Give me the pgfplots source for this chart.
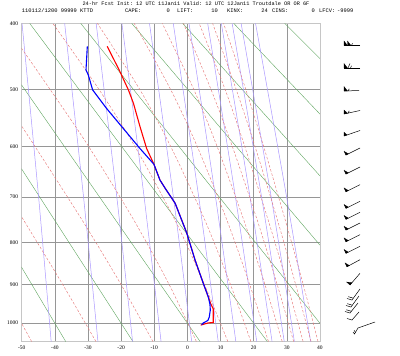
\documentclass[border=0pt]{standalone}
\usepackage{fontspec}
\setmainfont{Liberation Serif}
\setmonofont{Liberation Mono}
\usepackage{pgfplots}
\pgfplotsset{compat=1.18}
\definecolor{dryc}{RGB}{95,165,95}
\definecolor{moistc}{RGB}{230,120,120}
\definecolor{mixc}{RGB}{170,150,255}
\definecolor{gridc}{RGB}{150,150,150}
\newcommand{\hf}{\ttfamily\fontsize{5.4}{6}\selectfont}
\begin{document}
\begin{tikzpicture}[x=1pt,y=1pt]
\path (0,0) rectangle (400,356);
\begin{axis}[
  at={(21.7pt,14.5pt)}, anchor=south west,
  scale only axis, width=298.3pt, height=318.2pt,
  xmin=-50, xmax=40, ymin=400, ymax=1050,
  y coord trafo/.code={\pgfmathparse{(#1)^0.286}},
  y coord inv trafo/.code={\pgfmathparse{(#1)^3.4965}},
  y dir=reverse,
  xtick={-50,-40,-30,-20,-10,0,10,20,30,40},
  xticklabels={-50,-40,-30,-20,-10,0,10,20,30,40},
  ytick={400,500,600,700,800,900,1000},
  yticklabels={400,500,600,700,800,900,1000},
  grid=major, major grid style={gridc, line width=0.6pt},
  major tick length=0pt,
  axis line style={gray!45, line width=0.9pt},
  tick label style={font=\fontsize{5.5}{6}\selectfont},
  xticklabel style={yshift=-1pt},
]
% dry adiabats
\pgfplotsset{dry/.style={dryc, line width=0.4pt}}
\addplot[dry] coordinates {(-36.72,1050) (-93.75,400)};
\addplot[dry] coordinates {(-16.44,1050) (-78.36,400)};
\addplot[dry] coordinates {(3.84,1050) (-62.97,400)};
\addplot[dry] coordinates {(24.12,1050) (-47.58,400)};
\addplot[dry] coordinates {(44.40,1050) (-32.19,400)};
\addplot[dry] coordinates {(64.68,1050) (-16.80,400)};
\addplot[dry] coordinates {(84.96,1050) (-1.41,400)};
\addplot[dry] coordinates {(105.24,1050) (13.97,400)};
\addplot[dry] coordinates {(125.52,1050) (29.36,400)};
% mixing ratio lines
\pgfplotsset{mix/.style={mixc, line width=0.5pt, smooth}}
\addplot[mix] coordinates {(-41.11,1050) (-44.9,700) (-49.9,400)};
\addplot[mix] coordinates {(-27.0,1050) (-31.34,700) (-37.04,400)};
\addplot[mix] coordinates {(-16.55,1050) (-21.3,700) (-27.54,400)};
\addplot[mix] coordinates {(-7.95,1050) (-13.07,700) (-19.77,400)};
\addplot[mix] coordinates {(1.29,1050) (-4.23,700) (-11.45,400)};
\addplot[mix] coordinates {(9.29,1050) (3.41,700) (-4.27,400)};
\addplot[mix] coordinates {(14.61,1050) (8.48,700) (0.48,400)};
\addplot[mix] coordinates {(20.91,1050) (14.49,700) (6.11,400)};
\addplot[mix] coordinates {(25.54,1050) (18.89,700) (10.23,400)};
\addplot[mix] coordinates {(29.21,1050) (22.38,700) (13.49,400)};
\addplot[mix] coordinates {(32.27,1050) (25.28,700) (16.2,400)};
\addplot[mix] coordinates {(37.17,1050) (29.93,700) (20.55,400)};
% moist adiabats (theta-e lines)
\pgfplotsset{moist/.style={moistc, line width=0.45pt, dash pattern=on 2.5pt off 1.8pt, smooth}}
\addplot[moist] coordinates {(-47.0,1050) (-53.2,950)};
\addplot[moist] coordinates {(-27.6,1050) (-37.6,900) (-49.35,750) (-63,600)};
\addplot[moist] coordinates {(-10.4,1050) (-20.0,900) (-31.7,750) (-46.0,600) (-57.3,500)};
\addplot[moist] coordinates {(2.7,1050) (-5.5,900) (-16.1,750) (-29.8,600) (-41.45,500) (-55.3,400)};
\addplot[moist] coordinates {(12.2,1050) (5.15,900) (-3.7,750) (-15.85,600) (-26.7,500) (-40.6,400)};
\addplot[moist] coordinates {(19.15,1050) (13.0,900) (5.3,750) (-5.05,600) (-14.4,500) (-27.15,400)};
\addplot[moist] coordinates {(24.45,1050) (18.8,900) (11.95,750) (2.95,600) (-5.1,500) (-16.05,400)};
\addplot[moist] coordinates {(28.6,1050) (23.4,900) (17.05,750) (8.95,600) (1.9,500) (-7.6,400)};
\addplot[moist] coordinates {(32.05,1050) (27.1,900) (21.1,750) (13.55,600) (7.1,500) (-1.2,400)};
\addplot[moist] coordinates {(34.9,1050) (30.15,900) (24.4,750) (17.3,600) (11.35,500) (3.55,400)};
\addplot[moist] coordinates {(37.3,1050) (32.67,900) (27.2,750) (20.4,600) (14.7,500) (7.6,400)};
\addplot[moist] coordinates {(39.4,1050) (34.95,900) (29.55,750) (23.0,600) (17.6,500) (10.9,400)};
% temperature
\addplot[red, line width=1.1pt] coordinates {
(-24.2,433) (-20.6,469) (-17.8,501) (-16.3,523) (-14.3,564) (-12.3,604) (-10.1,634)
(-8.3,665) (-6.7,682) (-3.7,713) (-0.2,778) (2.3,840) (4.8,897) (6.3,931) (7.1,950)
(7.8,962) (7.8,998) (6.3,999) (4.0,1005)};
% dewpoint
\addplot[blue, line width=1.1pt] coordinates {
(-30.2,433) (-30.6,469) (-29.9,477) (-28.6,501) (-24.4,532) (-19.8,564) (-14.3,604)
(-10.1,634) (-8.3,665) (-6.7,682) (-3.7,713) (-0.2,778) (2.3,840) (4.8,897) (6.3,931)
(6.8,950) (6.9,965) (6.6,983) (6.2,992) (5.5,996) (4.8,999) (4.3,1004)};
\end{axis}
\begin{axis}[
  at={(0pt,0pt)}, anchor=south west,
  scale only axis, width=400pt, height=356pt,
  xmin=0, xmax=400, ymin=0, ymax=356, y dir=reverse,
  hide axis, clip=false,
]
\pgfplotsset{barb/.style={black, line width=0.5pt}, pen/.style={black, fill=black, line width=0.2pt}}
% upper barbs (westerly)
\addplot[barb] coordinates {(360,45.5) (344,45.5)};
\addplot[pen] coordinates {(344,45.5) (344,41) (347.5,45.5)} --cycle;
\addplot[pen] coordinates {(347.5,45.5) (347.5,41) (351,45.5)} --cycle;
\addplot[barb] coordinates {(351.5,45.5) (352.5,43.3)};
\addplot[barb] coordinates {(360,68) (344,68)};
\addplot[pen] coordinates {(344,68) (344,63.5) (347.5,68)} --cycle;
\addplot[barb] coordinates {(348,68) (350,63.5)};
\addplot[barb] coordinates {(350.5,68) (351.5,65.8)};
\addplot[barb] coordinates {(359,90.5) (344,91)};
\addplot[pen] coordinates {(344,91) (344,86.5) (347.5,91)} --cycle;
\addplot[barb] coordinates {(348.2,91) (349.2,88.8)};
\addplot[barb] coordinates {(360,110.5) (344,114)};
\addplot[pen] coordinates {(344,114) (344,110) (347.5,113.3)} --cycle;
\addplot[barb] coordinates {(348,113.2) (349.2,110.8)};
\addplot[barb] coordinates {(360,130.5) (344,136)};
\addplot[pen] coordinates {(344,136) (344,132.2) (347.2,135)} --cycle;
% mid barbs (southwesterly)
\addplot[barb] coordinates {(360,148) (346,155) (344,151)};
\addplot[pen] coordinates {(346,155) (344.6,151.6) (348.4,153.8)} --cycle;
\addplot[barb] coordinates {(360,167) (346,174) (344,170)};
\addplot[pen] coordinates {(346,174) (344.6,170.6) (348.4,172.8)} --cycle;
\addplot[barb] coordinates {(360,184.7) (346,191.7) (344,187.7)};
\addplot[pen] coordinates {(346,191.7) (344.6,188.3) (348.4,190.5)} --cycle;
\addplot[barb] coordinates {(360,201.3) (346,208.3) (344,204.3)};
\addplot[pen] coordinates {(346,208.3) (344.6,204.9) (348.4,207.1)} --cycle;
\addplot[barb] coordinates {(360,212.3) (346,219.3) (344,215.3)};
\addplot[pen] coordinates {(346,219.3) (344.6,215.9) (348.4,218.1)} --cycle;
\addplot[barb] coordinates {(360,223) (346,230) (344,226)};
\addplot[pen] coordinates {(346,230) (344.6,226.6) (348.4,228.8)} --cycle;
\addplot[barb] coordinates {(360,234.7) (346,241.7) (344,237.7)};
\addplot[pen] coordinates {(346,241.7) (344.6,238.3) (348.4,240.5)} --cycle;
\addplot[barb] coordinates {(360,246.3) (346,253.3) (344,249.3)};
\addplot[pen] coordinates {(346,253.3) (344.6,249.9) (348.4,252.1)} --cycle;
\addplot[barb] coordinates {(360,259.7) (347,266.7) (345,262.7)};
\addplot[pen] coordinates {(347,266.7) (345.6,263.3) (349.4,265.5)} --cycle;
% lower barbs
\addplot[barb] coordinates {(360,273.3) (350,285)};
\addplot[pen] coordinates {(350,285) (346.5,282) (352,282.6)} --cycle;
\addplot[barb] coordinates {(360,289) (352,300) (347,298.5)};
\addplot[barb] coordinates {(353.3,298.2) (348.3,296.7)};
\addplot[barb] coordinates {(359,296) (351,307) (346,305.5)};
\addplot[barb] coordinates {(352.3,305.2) (347.3,303.7)};
\addplot[barb] coordinates {(358,303) (350,313) (345,311.5)};
\addplot[barb] coordinates {(351.3,311.3) (346.3,309.8)};
\addplot[barb] coordinates {(359,312) (352,320) (347,318.5)};
\addplot[barb] coordinates {(358,328) (375,322)};
\addplot[barb] coordinates {(358,328) (354.5,334) (353,332)};
\addplot[barb] coordinates {(355.5,332.3) (354,330.3)};
% header text
\node[font=\ttfamily\fontsize{5.25}{6}\selectfont, anchor=center, inner sep=0pt] at (axis cs:196,4)
  {24-hr Fcst Init: 12 UTC 11Jan11 Valid: 12 UTC 12Jan11 Troutdale OR OR 6F};
\node[font=\hf, inner sep=0pt, anchor=west] at (axis cs:21.7,11) {110112/1200 99999 KTTD};
\node[font=\hf, inner sep=0pt, anchor=west] at (axis cs:125,11) {CAPE:};
\node[font=\hf, inner sep=0pt, anchor=east] at (axis cs:170,11) {0};
\node[font=\hf, inner sep=0pt, anchor=west] at (axis cs:177,11) {LIFT:};
\node[font=\hf, inner sep=0pt, anchor=east] at (axis cs:218,11) {10};
\node[font=\hf, inner sep=0pt, anchor=west] at (axis cs:227,11) {KINX:};
\node[font=\hf, inner sep=0pt, anchor=east] at (axis cs:268,11) {24};
\node[font=\hf, inner sep=0pt, anchor=west] at (axis cs:272,11) {CINS:};
\node[font=\hf, inner sep=0pt, anchor=east] at (axis cs:315,11) {0};
\node[font=\hf, inner sep=0pt, anchor=west] at (axis cs:319,11) {LFCV:};
\node[font=\hf, inner sep=0pt, anchor=west] at (axis cs:337,11) {-9999};
\end{axis}
\end{tikzpicture}
\end{document}
